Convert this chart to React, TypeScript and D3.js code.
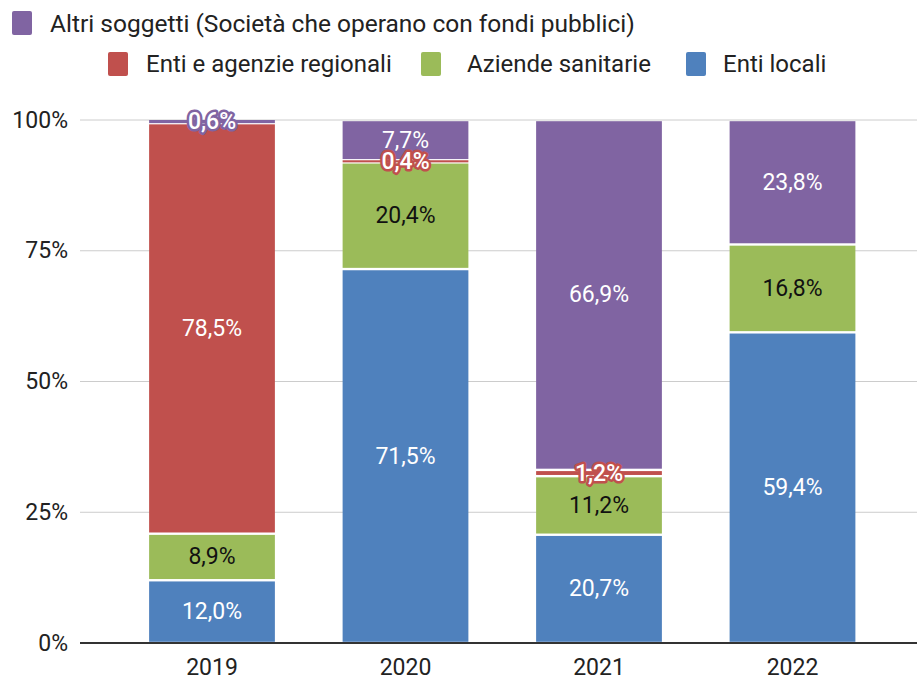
import * as d3 from "d3";

const years = ["2019", "2020", "2021", "2022"];
const keys = ["locali", "sanitarie", "regionali", "altri"];
const entiLocali = [12.0, 71.5, 20.7, 59.4];
const aziendeSanitarie = [8.9, 20.4, 11.2, 16.8];
const entiRegionali = [78.5, 0.4, 1.2, 0];
const altriSoggetti = [0.6, 7.7, 66.9, 23.8];
const yTicks = [0, 25, 50, 75, 100];

const legendNames: Record<string, string> = {
  altri: "Altri soggetti (Società che operano con fondi pubblici)",
  regionali: "Enti e agenzie regionali",
  sanitarie: "Aziende sanitarie",
  locali: "Enti locali",
};

const colors: Record<string, string> = {
  locali: "#4f81bd",
  sanitarie: "#9bbb59",
  regionali: "#c0504d",
  altri: "#8064a2",
};
const textColors: Record<string, string> = {
  locali: "#ffffff",
  sanitarie: "#111111",
  regionali: "#ffffff",
  altri: "#ffffff",
};

const width = 917;
const height = 681;
const font = "Roboto, sans-serif";

const App = () => {
  const rows = years.map((y, i) => ({
    year: y,
    locali: entiLocali[i],
    sanitarie: aziendeSanitarie[i],
    regionali: entiRegionali[i],
    altri: altriSoggetti[i],
  }));
  const stacked = d3.stack<any>().keys(keys)(rows);

  const x = d3
    .scaleBand()
    .domain(years)
    .range([115.25, 889.25])
    .paddingInner(0.35)
    .paddingOuter(0.175);
  const y = d3.scaleLinear().domain([0, 100]).range([643, 120]);

  const fmt = (v: number) => v.toFixed(1).replace(".", ",") + "%";

  const row2 = [
    { key: "regionali", sx: 108, tx: 146 },
    { key: "sanitarie", sx: 421, tx: 467 },
    { key: "locali", sx: 686, tx: 723 },
  ];

  return (
    <svg
      width={width}
      height={height}
      style={{ position: "absolute", left: 0, top: 0, background: "#fff" }}
      fontFamily={font}
    >
      {/* legend */}
      <rect x={12} y={11} width={20} height={24} rx={2} fill={colors.altri} />
      <text x={50} y={23} dominantBaseline="central" fontSize={24.5} fill="#222">
        {legendNames.altri}
      </text>
      {row2.map((d) => (
        <g key={d.key}>
          <rect x={d.sx} y={52} width={20} height={24} rx={2} fill={colors[d.key]} />
          <text x={d.tx} y={64} dominantBaseline="central" fontSize={24} fill="#222">
            {legendNames[d.key]}
          </text>
        </g>
      ))}

      {/* grid + y axis */}
      {yTicks.map((t) => (
        <g key={t}>
          {t > 0 && (
            <line x1={80} x2={917} y1={y(t)} y2={y(t)} stroke="#cccccc" strokeWidth={1} />
          )}
          <text
            x={68}
            y={y(t)}
            textAnchor="end"
            dominantBaseline="central"
            fontSize={23}
            fill="#222"
          >
            {t}%
          </text>
        </g>
      ))}

      {/* bars: 1px white gap between segments, tiny segments kept visible */}
      {stacked.map((s) => (
        <g key={s.key} fill={colors[s.key]}>
          {s.map((d, i) => {
            if (d[1] - d[0] <= 0) return null;
            const top = y(d[1]);
            const h = y(d[0]) - top;
            const inset = h < 6 ? 0 : 1.2;
            return (
              <rect
                key={i}
                x={x(years[i])}
                y={top + inset}
                width={x.bandwidth()}
                height={h - 2 * inset}
              />
            );
          })}
        </g>
      ))}

      <line x1={80} x2={917} y1={y(0)} y2={y(0)} stroke="#333" strokeWidth={2} />

      {/* value labels */}
      {stacked.map((s) =>
        s.map((d, i) => {
          const v = d[1] - d[0];
          if (v <= 0) return null;
          const cx = (x(years[i]) as number) + x.bandwidth() / 2;
          const cy = y((d[0] + d[1]) / 2);
          const small = v < 3;
          return (
            <text
              key={s.key + i}
              x={cx}
              y={cy}
              textAnchor="middle"
              dominantBaseline="central"
              fontSize={23}
              fill={small ? "#fff" : textColors[s.key]}
              stroke={small ? colors[s.key] : "none"}
              strokeWidth={small ? 5 : 0}
              strokeLinejoin="round"
              paintOrder="stroke"
              fontWeight={small ? 500 : 400}
            >
              {fmt(v)}
            </text>
          );
        })
      )}

      {/* x labels */}
      {years.map((yr) => (
        <text
          key={yr}
          x={(x(yr) as number) + x.bandwidth() / 2}
          y={667}
          textAnchor="middle"
          dominantBaseline="central"
          fontSize={23}
          fill="#222"
        >
          {yr}
        </text>
      ))}
    </svg>
  );
};

export default App;
